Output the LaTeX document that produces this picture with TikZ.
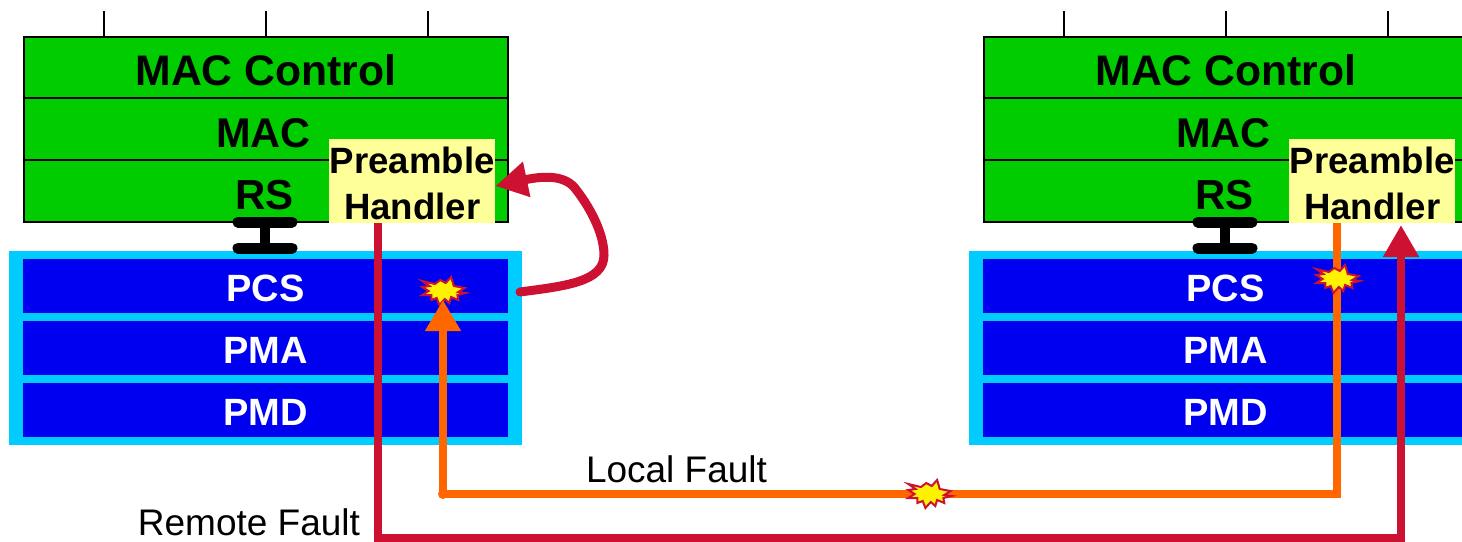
\documentclass[tikz,border=0pt]{standalone}
\usepackage{fontspec}
\setmainfont{Liberation Sans}
\usetikzlibrary{arrows.meta,calc}
\definecolor{macgreen}{HTML}{00CC00}
\definecolor{phyblue}{HTML}{0000F0}
\definecolor{phycyan}{HTML}{00CCFF}
\definecolor{handleryellow}{HTML}{FFFF99}
\definecolor{faultred}{HTML}{CC1133}
\definecolor{faultorange}{HTML}{FF6600}
\newcommand{\lowered}[2]{\raisebox{-#1}[0pt][0pt]{#2}}
\tikzset{
  macrow/.style={draw=black,line width=2pt,fill=macgreen,minimum width=484pt,minimum height=62pt,inner sep=0pt,outer sep=0pt,anchor=north west},
  phyouter/.style={fill=phycyan,minimum width=513pt,minimum height=194pt,inner sep=0pt,anchor=north west},
  phyrow/.style={fill=phyblue,text=white,minimum width=485pt,minimum height=54pt,inner sep=0pt,anchor=north west,font=\fontsize{38}{40}\selectfont\bfseries},
  macfont/.style={font=\fontsize{#1}{44}\selectfont\bfseries},
  handler/.style={fill=handleryellow,minimum width=166pt,minimum height=84pt,inner sep=0pt,anchor=north west,align=center,font=\fontsize{36.6}{46}\selectfont\bfseries},
  tick/.style={draw=black,line width=1.5pt},
  rsbar/.style={draw=black,line width=11pt,line cap=round},
  rsstem/.style={draw=black,line width=10pt},
  redline/.style={draw=faultred,line width=8pt,line join=miter},
  orangeline/.style={draw=faultorange,line width=8pt,line join=miter},
  redhead/.style={-{Triangle[width=34pt,length=32pt]}},
  orangehead/.style={-{Triangle[width=34pt,length=31pt]}},
  faultlabel/.style={font=\fontsize{37}{40}\selectfont,inner sep=0pt},
  burst/.pic={
    \path[draw=faultred,fill=yellow,line width=2pt,line join=miter,xscale=.9]
      (-23,-10)--(-9,-7)--(-3,-11)--(3,-8)--(9,-14)--(12,-5)--(24,-3)--(17,1)--(25,2)--(16,4)--(17,9)--(9,6)--(7,12)--(2,8)--(-4,14)--(-7,7)--(-13,9)--(-13,4)--(-23,4)--(-16,0)--(-23,-4)--(-15,-5)--cycle;
  }
}
\newcommand{\stack}[2]{%
  \begin{scope}[xshift=#1 pt]
    \draw[tick] (104,11) coordinate (#2t1) -- (104,37);
    \draw[tick] (266,11) coordinate (#2t2) -- (266,37);
    \draw[tick] (428,11) coordinate (#2t3) -- (428,37);
    \node[macrow,macfont=42.7,minimum height=61pt] (#2control) at (24,37) {\lowered{17.7pt}{MAC Control}};
    \node[macrow,macfont=41.5,minimum height=62pt] (#2mac) at (24,98) {\lowered{18pt}{MAC\hspace*{5pt}}};
    \node[macrow,macfont=42,minimum height=62pt] (#2rs) at (24,160) {\lowered{18pt}{RS\hspace*{3pt}}};
    \node[phyouter] (#2outer) at (9,251) {};
    \node[phyrow] (#2pcs) at (23,259) {\lowered{15pt}{PCS}};
    \node[phyrow] (#2pma) at (23,321) {\lowered{15pt}{PMA}};
    \node[phyrow] (#2pmd) at (23,383) {\lowered{15pt}{PMD}};
    \coordinate (#2barA) at (238,222);
    \coordinate (#2barB) at (292,222);
    \coordinate (#2barC) at (238,248);
    \coordinate (#2barD) at (292,248);
    \draw[rsstem] (265,222) -- (265,248);
    \draw[rsbar] (#2barA) -- (#2barB);
    \draw[rsbar] (#2barC) -- (#2barD);
  \end{scope}}
\begin{document}
\begin{tikzpicture}[x=1pt,y=-1pt]
\useasboundingbox (0,0) rectangle (1462,541);
\clip (0,0) rectangle (1462,541);
\fill[white] (0,0) rectangle (1462,541);
\stack{0}{l}
\stack{960}{r}
% named junctions
\coordinate (rfcorner1) at (378,538);
\coordinate (rfcorner2) at (1401,538);
\coordinate (rftip) at (1401,225);
\coordinate (lfcorner1) at (1337,494);
\coordinate (lfcorner2) at (443,494);
\coordinate (lftip) at (443,300);
% left burst and fault paths
\pic at (443,291) {burst};
\node[handler] (lh) at (329,139) {\rule{0pt}{31pt}Preamble\\Handler};
\node[handler] (rh) at (1289,139) {\rule{0pt}{31pt}Preamble\\Handler};
\draw[orangeline] (rh.south -| lfcorner1) -- (lfcorner1) -- (lfcorner2);
\draw[orangeline,orangehead] (lfcorner2) -- (lftip);
\fill[faultorange] (lfcorner2) circle (5pt);
\draw[redline,redhead] (lh.south -| rfcorner1) -- (rfcorner1) -- (rfcorner2) -- (rftip);
\coordinate (loopstart) at (520,292);
\draw[draw=faultred,line width=9pt,line cap=round,redhead] (loopstart)
  .. controls (565,286) and (604,282) .. (604,255)
  .. controls (604,232) and (588,204) .. (574,187)
  .. controls (563,175) and (543,176) .. (lh.east |- 0,186);
\pic at (1337,279) {burst};
\pic at (929,494) {burst};
\node[faultlabel,anchor=base] (local) at (676.5,482) {Local Fault};
\node[faultlabel,anchor=base] (remote) at (249,535) {Remote Fault};
\end{tikzpicture}
\end{document}
